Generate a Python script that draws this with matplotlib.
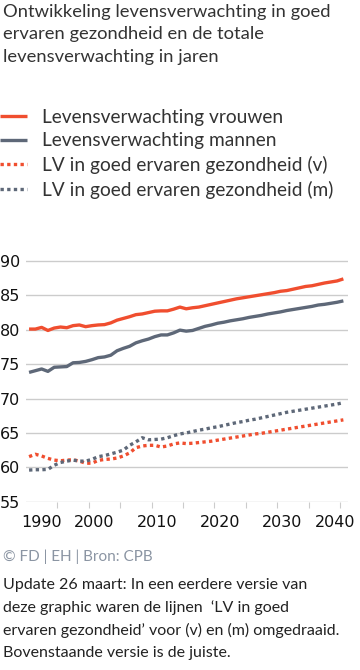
import matplotlib
matplotlib.use("Agg")
import matplotlib.pyplot as plt

# Data
years = list(range(1990, 2041))

lv_vrouwen = [80.1, 80.1, 80.35, 79.9, 80.25, 80.4, 80.3, 80.6, 80.7, 80.45,
              80.6, 80.7, 80.75, 81.0, 81.4, 81.65, 81.9, 82.2, 82.3, 82.5,
              82.7, 82.75, 82.75, 83.0, 83.3, 83.05, 83.2, 83.3, 83.5, 83.7,
              83.9, 84.1, 84.3, 84.5, 84.65, 84.8, 84.95, 85.1, 85.25, 85.4,
              85.6, 85.7, 85.9, 86.1, 86.3, 86.4, 86.6, 86.8, 86.95, 87.1, 87.4]

lv_mannen = [73.8, 74.05, 74.3, 73.95, 74.55, 74.6, 74.65, 75.2, 75.25, 75.4,
             75.65, 75.95, 76.05, 76.3, 76.95, 77.3, 77.6, 78.1, 78.4, 78.65,
             79.0, 79.25, 79.25, 79.55, 79.95, 79.8, 79.9, 80.2, 80.5, 80.7,
             80.95, 81.1, 81.3, 81.45, 81.6, 81.8, 81.95, 82.1, 82.3, 82.45,
             82.6, 82.8, 82.95, 83.1, 83.25, 83.4, 83.6, 83.7, 83.85, 84.0, 84.2]

gez_vrouwen = [61.55, 61.9, 61.65, 61.3, 61.05, 60.95, 61.05, 61.1, 60.9, 60.6,
               60.6, 61.0, 61.15, 61.2, 61.35, 61.65, 62.1, 62.85, 63.1, 63.2,
               63.2, 62.95, 63.1, 63.4, 63.55, 63.45, 63.5, 63.6, 63.7, 63.8,
               63.95, 64.1, 64.25, 64.4, 64.55, 64.7, 64.85, 64.95, 65.1, 65.25,
               65.4, 65.55, 65.7, 65.85, 66.0, 66.15, 66.3, 66.45, 66.6, 66.75, 66.9]

gez_mannen = [59.6, 59.65, 59.65, 59.7, 60.3, 60.7, 60.9, 61.05, 60.9, 60.9,
              61.15, 61.55, 61.7, 61.95, 62.2, 62.5, 63.2, 63.7, 64.3, 64.0,
              64.05, 64.1, 64.3, 64.6, 64.85, 65.0, 65.2, 65.4, 65.55, 65.75,
              65.9, 66.1, 66.3, 66.5, 66.65, 66.85, 67.0, 67.2, 67.4, 67.6,
              67.8, 68.0, 68.15, 68.3, 68.45, 68.6, 68.75, 68.9, 69.05, 69.2, 69.4]

labels = ["Levensverwachting vrouwen", "Levensverwachting mannen",
          "LV in goed ervaren gezondheid (v)", "LV in goed ervaren gezondheid (m)"]
year_labels = [1990, 2000, 2010, 2020, 2030, 2040]
y_ticks = [55, 60, 65, 70, 75, 80, 85, 90]

title_lines = ["Ontwikkeling levensverwachting in goed",
               "ervaren gezondheid en de totale",
               "levensverwachting in jaren"]
source = "\u00a9 FD | EH | Bron: CPB"
note_lines = ["Update 26 maart: In een eerdere versie van",
              "deze graphic waren de lijnen  \u2018LV in goed",
              "ervaren gezondheid\u2019 voor (v) en (m) omgedraaid.",
              "Bovenstaande versie is de juiste."]

RED = "#f04e2f"
GREY = "#5e6878"
TXT = "#333333"
FONT = ["Lato", "DejaVu Sans"]

fig = plt.figure(figsize=(3.6, 6.7), dpi=100)
ax = fig.add_axes([0.072, 0.2512, 0.894, 0.3695])

lw = 2.4
l1, = ax.plot(years, lv_vrouwen, color=RED, lw=lw, solid_capstyle="butt")
l2, = ax.plot(years, lv_mannen, color=GREY, lw=lw, solid_capstyle="butt")
l3, = ax.plot(years, gez_vrouwen, color=RED, lw=lw, ls=(0, (1, 1)))
l4, = ax.plot(years, gez_mannen, color=GREY, lw=lw, ls=(0, (1, 1)))

ax.set_xlim(1989.5, 2040.7)
ax.set_ylim(55, 91)
ax.set_yticks(y_ticks)
ax.grid(axis="y", color="#cccccc", lw=1)
ax.set_axisbelow(True)
for s in ax.spines.values():
    s.set_visible(False)
ax.tick_params(axis="y", length=0, pad=4, labelsize=11.5, labelcolor="#111111")

# tick marks between the year categories, labels placed separately
ax.set_xticks([y + 4.5 for y in range(1990, 2040, 5)])
ax.set_xticklabels([])
ax.tick_params(axis="x", length=4, width=0.8, color="#cccccc")
offsets = {1990: 12, 2040: -8}
for yr in year_labels:
    ax.annotate(str(yr), xy=(yr, 0), xycoords=("data", "axes fraction"),
                xytext=(offsets.get(yr, 2), -13), textcoords="offset pixels",
                ha="center", va="top", fontsize=11.5, color="#111111")

fig.legend([l1, l2, l3, l4], labels, loc="upper left",
           bbox_to_anchor=(0.0, 1 - 109 / 670), frameon=False,
           handlelength=1.42, handletextpad=0.8, labelspacing=0.34,
           borderaxespad=0, borderpad=0,
           prop={"family": FONT, "size": 13.75}, labelcolor=TXT)

for i, line in enumerate(title_lines):
    fig.text(3 / 360, 1 - (12 + 22.4 * i) / 670, line, ha="left", va="center",
             fontsize=13.25, family=FONT, color=TXT)

fig.text(3 / 360, 1 - 557 / 670, source, ha="left", va="center",
         fontsize=11, family=FONT, color="#8b95a3")

for i, line in enumerate(note_lines):
    fig.text(3 / 360, 1 - (585 + 22.7 * i) / 670, line, ha="left", va="center",
             fontsize=11.5, family=FONT, color="#222222")

fig.savefig("out.png", dpi=100, facecolor="white")
